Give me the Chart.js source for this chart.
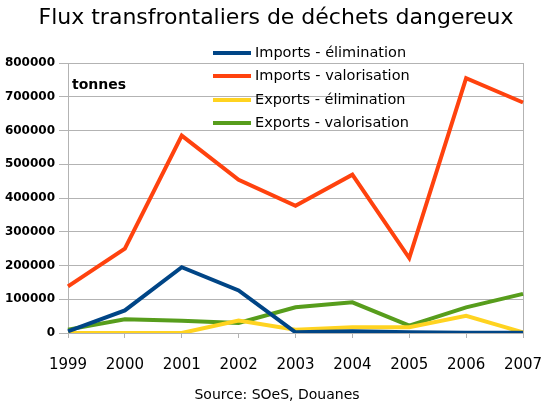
<!DOCTYPE html>
<html>
<head>
<meta charset="utf-8">
<script src="https://cdn.jsdelivr.net/npm/chart.js@4/dist/chart.umd.min.js"></script>
<style>
html,body{margin:0;padding:0;background:#fff;}
#wrap{width:549px;height:407px;position:relative;}
</style>
</head>
<body>
<div id="wrap"><canvas id="c" width="549" height="407"></canvas></div>
<script>
const years = ['1999','2000','2001','2002','2003','2004','2005','2006','2007'];
const importsElimination = [5000, 67000, 195000, 126000, 2000, 5000, 2000, 1000, 1000];
const importsValorisation = [138000, 250000, 585000, 454000, 377000, 469000, 222000, 755000, 683000];
const exportsElimination = [0, 0, 0, 37000, 10000, 17000, 17000, 51000, 2000];
const exportsValorisation = [10000, 41000, 36000, 30000, 76000, 91000, 22000, 76000, 116000];
const seriesNames = ['Imports - élimination','Imports - valorisation','Exports - élimination','Exports - valorisation'];
const titleText = 'Flux transfrontaliers de déchets dangereux';
const sourceText = 'Source: SOeS, Douanes';
const unitText = 'tonnes';

const colors = ['#004586','#ff420e','#ffd320','#579d1c'];
const GRID = '#b3b3b3';
const FONT = '"DejaVu Sans", sans-serif';

const textPlugin = {
  id: 'texts',
  afterDraw(chart) {
    const ctx = chart.ctx;
    ctx.save();
    ctx.fillStyle = '#000';
    ctx.textBaseline = 'middle';
    ctx.textAlign = 'center';
    ctx.font = '22px ' + FONT;
    ctx.fillText(titleText, 276, 18);
    ctx.font = '14px ' + FONT;
    ctx.fillText(sourceText, 277, 395);
    ctx.textAlign = 'left';
    ctx.font = 'bold 14px ' + FONT;
    ctx.fillText(unitText, 72, 85);
    const rows = [53, 76, 100, 123];
    ctx.font = '14.5px ' + FONT;
    chart.data.datasets.forEach((ds, i) => {
      ctx.strokeStyle = ds.borderColor;
      ctx.lineWidth = 4;
      ctx.beginPath();
      ctx.moveTo(213, rows[i]);
      ctx.lineTo(251, rows[i]);
      ctx.stroke();
      ctx.fillStyle = '#000';
      ctx.fillText(ds.label, 255, rows[i]);
    });
    ctx.restore();
  }
};

const data = {
  labels: years,
  datasets: [importsElimination, importsValorisation, exportsElimination, exportsValorisation].map((d, i) => ({
    label: seriesNames[i],
    data: d,
    borderColor: colors[i],
    backgroundColor: colors[i],
    borderWidth: 4,
    pointRadius: 0,
    tension: 0,
    fill: false,
    borderCapStyle: 'butt',
    borderJoinStyle: 'miter'
  }))
};

new Chart(document.getElementById('c'), {
  type: 'line',
  data,
  options: {
    responsive: false,
    animation: false,
    devicePixelRatio: 1,
    layout: { padding: { top: 63, right: 26, bottom: 29, left: 0 } },
    plugins: { legend: { display: false }, title: { display: false }, tooltip: { enabled: false } },
    scales: {
      x: {
        type: 'category',
        offset: false,
        grid: {
          color: (c) => (c.index === years.length - 1 ? GRID : 'rgba(0,0,0,0)'),
          tickColor: GRID,
          tickLength: 5,
          lineWidth: 1
        },
        border: { display: true, color: GRID },
        ticks: { color: '#000', font: { family: FONT, size: 15 }, padding: 18, maxRotation: 0, autoSkip: false },
        afterFit(s) { s.height = 45; s.paddingLeft = 0; s.paddingRight = 0; }
      },
      y: {
        min: 0,
        max: 800000,
        ticks: {
          stepSize: 100000, color: '#000', font: { family: FONT, size: 12, weight: 'bold' }, padding: 4,
          callback: (v) => String(v)
        },
        grid: { color: GRID, tickColor: GRID, tickLength: 9, lineWidth: 1 },
        border: { display: true, color: GRID },
        afterFit(s) { s.width = 68; s.paddingTop = 0; s.paddingBottom = 0; }
      }
    }
  },
  plugins: [textPlugin]
});
</script>
</body>
</html>
